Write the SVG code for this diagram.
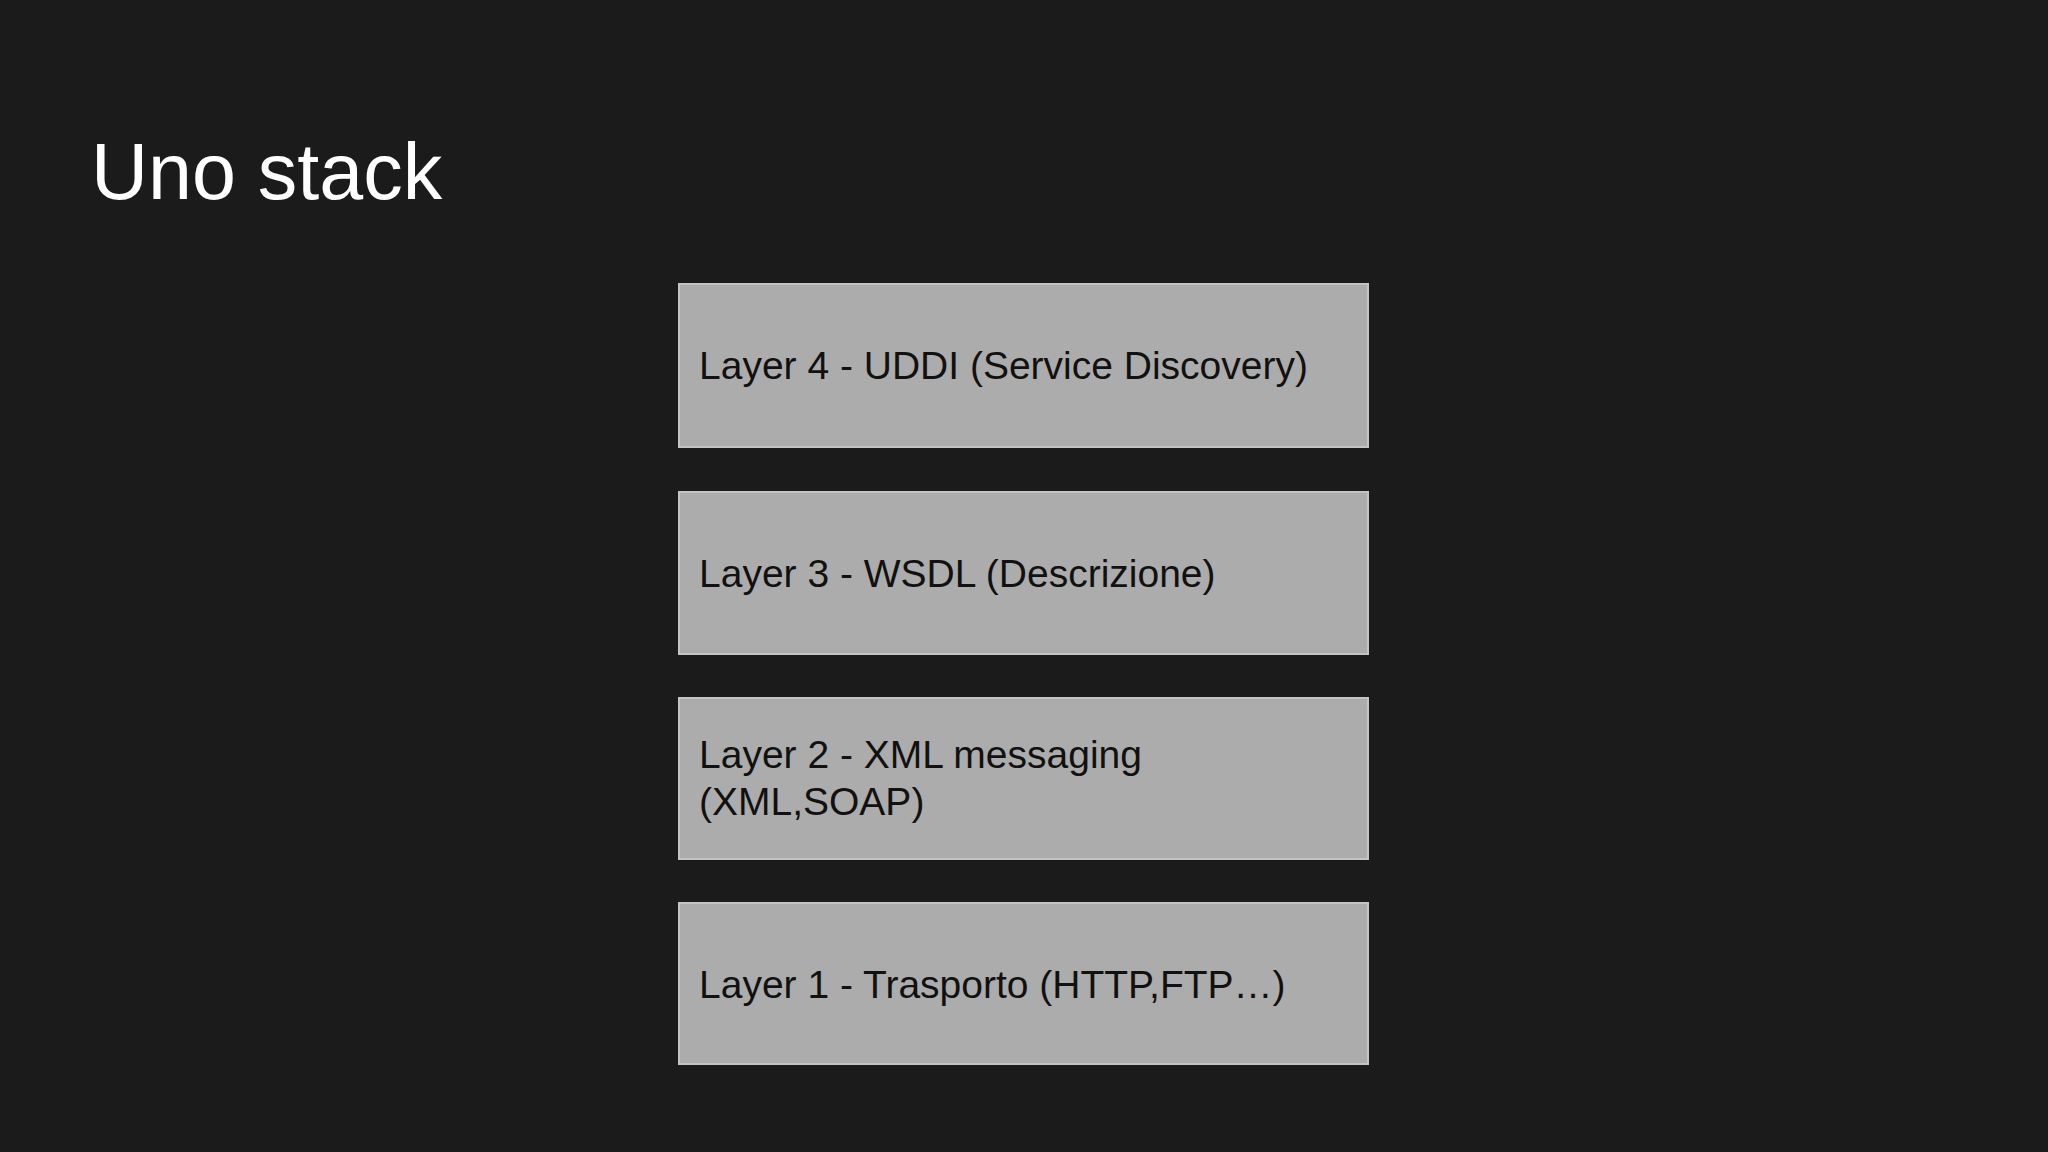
<svg xmlns="http://www.w3.org/2000/svg" width="2048" height="1152" viewBox="0 0 2048 1152">
<style>
.box{fill:#acacac;stroke:#c4c4c4;stroke-width:2}
.t{font-family:"Liberation Sans",Arial,sans-serif;font-size:39px;fill:#111}
</style>
<rect width="2048" height="1152" fill="#1b1b1b"/>
<text x="91" y="199" font-family="Liberation Sans,Arial,sans-serif" font-size="79" fill="#ffffff">Uno stack</text>
<g id="layer4"><rect class="box" x="679" y="284" width="689" height="163"/><text class="t" x="699" y="379">Layer 4 - UDDI (Service Discovery)</text></g>
<g id="layer3"><rect class="box" x="679" y="492" width="689" height="162"/><text class="t" x="699" y="587">Layer 3 - WSDL (Descrizione)</text></g>
<g id="layer2"><rect class="box" x="679" y="698" width="689" height="161"/><text class="t" x="699" y="768">Layer 2 - XML messaging</text><text class="t" x="699" y="815">(XML,SOAP)</text></g>
<g id="layer1"><rect class="box" x="679" y="903" width="689" height="161"/><text class="t" x="699" y="998">Layer 1 - Trasporto (HTTP,FTP…)</text></g>
<g id="connectors"/>
</svg>
